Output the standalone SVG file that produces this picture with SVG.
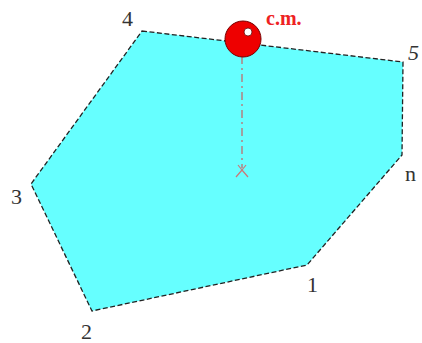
<svg xmlns="http://www.w3.org/2000/svg" width="422" height="343" viewBox="0 0 422 343">
<style>
.poly{fill:#66ffff;stroke:#222;stroke-width:1.3;stroke-dasharray:5 2.5}
.lbl{font-family:'Liberation Serif','Times New Roman',serif;font-size:22px;fill:#333}
.cm{font-family:'Liberation Serif','Times New Roman',serif;font-size:20px;font-weight:bold;fill:#ee2222}
.axis{stroke:#a0a0a0;stroke-width:2;stroke-dasharray:8 4 2 4;fill:none}
</style>
<rect width="422" height="343" fill="#fff"/>
<g id="polygon">
<polygon class="poly" points="142,31 403,62 402,155 307,265 92,311 31,184"/>
</g>
<g id="connectors">
<line class="axis" x1="242" y1="56" x2="242" y2="168"/>
<path d="M236,177 L242,170 L248,177 M242,170 L238,165 M242,170 L246,165" stroke="#c77" stroke-width="1.2" fill="none"/>
</g>
<g id="cm-ball">
<circle cx="243" cy="39" r="18" fill="#ee0000" stroke="#700" stroke-width="1"/>
<circle cx="248" cy="32" r="4" fill="#fff" stroke="#600" stroke-width="0.8"/>
<text class="cm" x="266" y="25">c.m.</text>
</g>
<g id="labels">
<text class="lbl" x="122" y="26">4</text>
<text class="lbl" x="11" y="204">3</text>
<text class="lbl" x="81" y="339">2</text>
<text class="lbl" x="307" y="292">1</text>
<text class="lbl" x="405" y="181">n</text>
<text class="lbl" x="408" y="60" font-style="italic">5</text>
</g>
</svg>
